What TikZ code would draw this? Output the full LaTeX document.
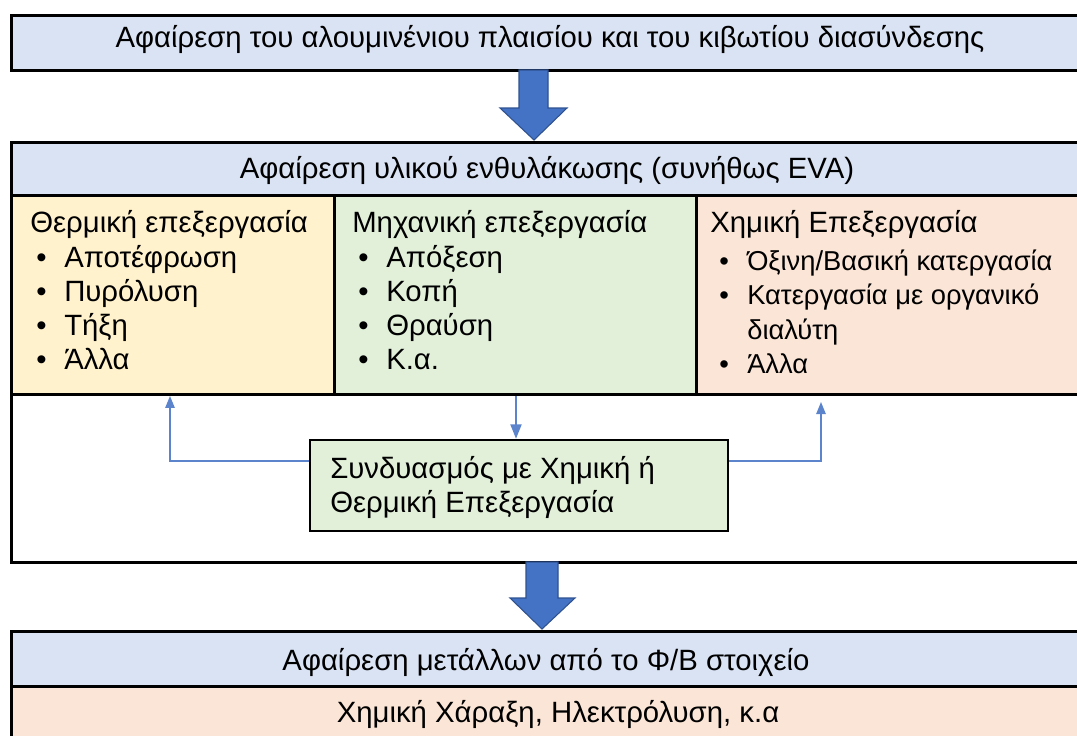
\documentclass[tikz,border=0pt]{standalone}
\usepackage{fontspec}
\setmainfont{Liberation Sans}
\usetikzlibrary{arrows.meta,calc}
\definecolor{hdrblue}{HTML}{DAE3F3}
\definecolor{thermy}{HTML}{FFF2CC}
\definecolor{mechg}{HTML}{E2F0D9}
\definecolor{chempe}{HTML}{FBE5D6}
\definecolor{arrblue}{HTML}{4472C4}
\definecolor{arredge}{HTML}{2F528F}
\definecolor{linkblue}{HTML}{5B84CC}
\tikzset{
  panel/.style={draw=black, line width=2.2pt, inner sep=0pt, anchor=north west},
  lbl/.style={inner sep=0pt, anchor=base, font=\fontsize{22}{25}\selectfont},
  ln/.style={inner sep=0pt, anchor=base west, font=\fontsize{22}{25}\selectfont},
  sln/.style={inner sep=0pt, anchor=base west, font=\fontsize{20.5}{24}\selectfont},
  fatarrow/.style={fill=arrblue, draw=arredge, line width=0.8pt, line join=miter},
  link/.style={draw=linkblue, line width=1.2pt, -{Triangle[length=9pt,width=7pt]}},
}
\newcommand{\bul}[1]{\makebox[21pt][l]{•}#1}
\begin{document}
\begin{tikzpicture}[x=0.75pt,y=-0.75pt]
\clip (0,0) rectangle (1077,735);
\useasboundingbox (0,0) rectangle (1077,735);
\fill[white] (0,0) rectangle (1077,735);
% top box
\node[panel, fill=hdrblue, minimum width=810pt, minimum height=41.25pt] (top) at (10,14) {};
\node[lbl] (toptxt) at (550,48) {Αφαίρεση του αλουμινένιου πλαισίου και του κιβωτίου διασύνδεσης};
% second box
\node[panel, fill=white, minimum width=810pt, minimum height=315pt] (outer) at (10,141) {};
\node[panel, fill=hdrblue, minimum width=810pt, minimum height=39.75pt] (hdr2) at (10,141) {};
\node[lbl] (hdr2txt) at (547,178) {Αφαίρεση υλικού ενθυλάκωσης (συνήθως EVA)};
\node[panel, fill=thermy, minimum width=242.25pt, minimum height=149.25pt] (therm) at (10,194) {};
\node[panel, fill=mechg, minimum width=271.5pt, minimum height=149.25pt] (mech) at (333,194) {};
\node[panel, fill=chempe, minimum width=296.25pt, minimum height=149.25pt] (chem) at (695,194) {};
% thermal column
\node[ln] (t0) at (30,232) {Θερμική επεξεργασία};
\node[ln] (t1) at (36,267) {\bul{Αποτέφρωση}};
\node[ln] (t2) at (36,301) {\bul{Πυρόλυση}};
\node[ln] (t3) at (36,335) {\bul{Τήξη}};
\node[ln] (t4) at (36,369) {\bul{Άλλα}};
% mechanical column
\node[ln] (m0) at (352,232) {Μηχανική επεξεργασία};
\node[ln] (m1) at (358,267) {\bul{Απόξεση}};
\node[ln] (m2) at (358,301) {\bul{Κοπή}};
\node[ln] (m3) at (358,335) {\bul{Θραύση}};
\node[ln] (m4) at (358,369) {\bul{Κ.α.}};
% chemical column
\node[ln] (c0) at (710,232) {Χημική Επεξεργασία};
\node[sln] (c1) at (719,270) {\bul{Όξινη/Βασική κατεργασία}};
\node[sln] (c2) at (719,304) {\bul{Κατεργασία με οργανικό}};
\node[sln] (c3) at (747,339) {διαλύτη};
\node[sln] (c4) at (719,373) {\bul{Άλλα}};
% combination box
\node[panel, draw=black, line width=1.6pt, fill=mechg, minimum width=313.5pt, minimum height=68.25pt] (combo) at (309,439) {};
\node[ln] (combo1) at (330,478) {Συνδυασμός με Χημική ή};
\node[ln] (combo2) at (330,512) {Θερμική Επεξεργασία};
% links
\draw[link, line width=2.2pt, -{Triangle[length=11pt,width=8pt]}] (mech.south -| 516,0) -- (combo.north -| 516,0);
\draw[link] (combo.west |- 0,461) -| (therm.south -| 170,0);
\coordinate (chemin) at (821,402);
\draw[link] (combo.east |- 0,461) -| (chemin);
% bottom box
\node[panel, fill=chempe, minimum width=810pt, minimum height=86.25pt] (bottom) at (10,630) {};
\node[panel, fill=hdrblue, minimum width=810pt, minimum height=41.25pt] (hdr3) at (10,630) {};
\node[lbl] (hdr3txt) at (546,670) {Αφαίρεση μετάλλων από το Φ/Β στοιχείο};
\node[lbl] (bottxt) at (558,722) {Χημική Χάραξη, Ηλεκτρόλυση, κ.α};
% fat arrows
\draw[fatarrow] (519,70) -- (548,70) -- (548,108) -- (567,108) -- (534,140) -- (500,108) -- (519,108) -- cycle;
\draw[fatarrow] (526,562) -- (558,562) -- (558,598) -- (575,598) -- (542,629) -- (510,598) -- (526,598) -- cycle;
\end{tikzpicture}
\end{document}
